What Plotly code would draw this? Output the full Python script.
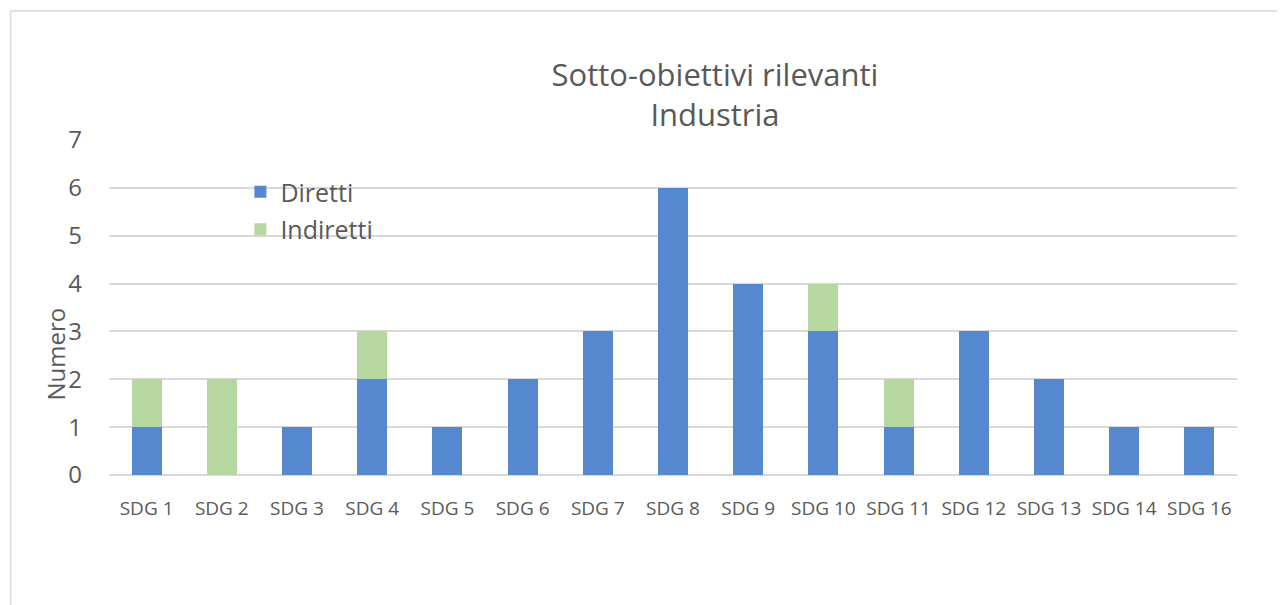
import plotly.graph_objects as go

categories = ["SDG 1", "SDG 2", "SDG 3", "SDG 4", "SDG 5", "SDG 6", "SDG 7", "SDG 8",
              "SDG 9", "SDG 10", "SDG 11", "SDG 12", "SDG 13", "SDG 14", "SDG 16"]
diretti = [1, 0, 1, 2, 1, 2, 3, 6, 4, 3, 1, 3, 2, 1, 1]
indiretti = [1, 2, 0, 1, 0, 0, 0, 0, 0, 1, 1, 0, 0, 0, 0]

blue = "#5588CF"
green = "#B6D7A0"
txt = "#595959"
font = "Open Sans"

fig = go.Figure()
fig.add_trace(go.Bar(x=categories, y=diretti, name="Diretti", marker_color=blue,
                     marker_line_width=0, legendgroup="a"))
fig.add_trace(go.Bar(x=categories, y=indiretti, name="Indiretti", marker_color=green,
                     marker_line_width=0, legendgroup="b"))

OFF = 8  # page body margin
W, H = 1285, 605
L, T = 108.5 - OFF, 140 - OFF
R = W - (1237.5 - OFF)
B = H - (475 - OFF)
pw = W - L - R
ph = H - T - B


def px(x):
    return (x - OFF - L) / pw


def py(y):
    return (H - B - (y - OFF)) / ph


fig.update_layout(
    width=W, height=H,
    margin=dict(l=L, r=R, t=T, b=B),
    barmode="stack", bargap=0.6,
    plot_bgcolor="white", paper_bgcolor="white",
    font=dict(family=font, color=txt),
    title=dict(text="Sotto-obiettivi rilevanti<br>Industria", xref="container",
               x=(715 - OFF) / W, xanchor="center",
               y=1 - (86 - OFF) / H, yanchor="middle", font=dict(size=31, color=txt, family=font)),
    legend=dict(x=px(240), y=py(169), xanchor="left", yanchor="top", traceorder="grouped",
                font=dict(size=25, color=txt, family=font), bgcolor="rgba(0,0,0,0)",
                tracegroupgap=2, itemwidth=30),
    xaxis=dict(showgrid=False, tickfont=dict(size=19, color=txt), ticks="", showline=False,
               ticklabelstandoff=20),
    yaxis=dict(range=[0, 7], dtick=1, gridcolor="#D9D9D9", gridwidth=1.5, zeroline=True,
               zerolinecolor="#D9D9D9", zerolinewidth=1.5, tickfont=dict(size=24, color=txt),
               ticklabelstandoff=26),
    annotations=[dict(text="Numero", xref="paper", yref="paper", x=px(54), y=py(354),
                      xanchor="center", yanchor="middle", textangle=-90, showarrow=False,
                      font=dict(size=24, color=txt, family=font))],
    shapes=[dict(type="rect", xref="paper", yref="paper", x0=px(10), x1=px(1300),
                 y0=py(620), y1=py(11), line=dict(color="#D9D9D9", width=1.5),
                 fillcolor="rgba(0,0,0,0)", layer="below")],
)

fig.write_html("out.html")
